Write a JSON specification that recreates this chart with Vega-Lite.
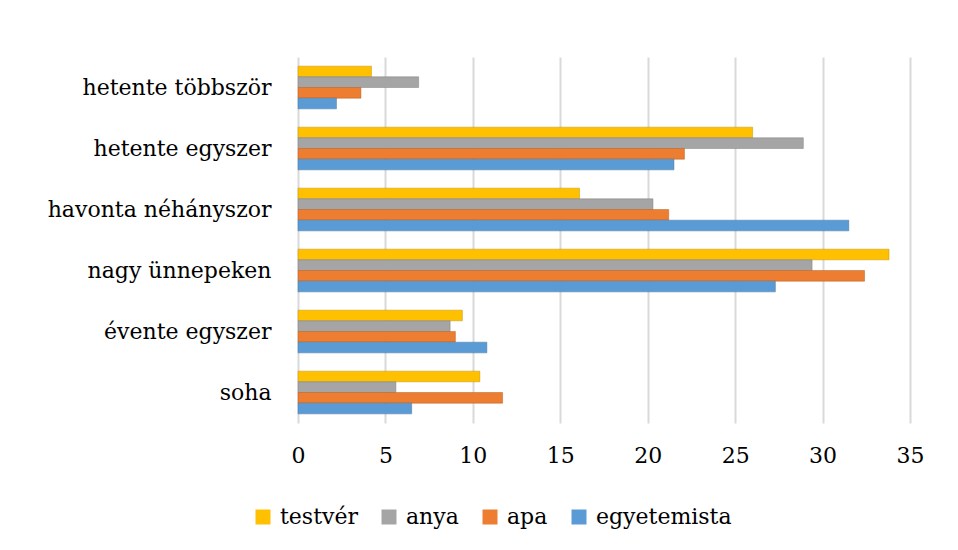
{
  "$schema": "https://vega.github.io/schema/vega-lite/v6.json",
  "width": 612,
  "height": 366,
  "autosize": {"type": "none"},
  "padding": {"left": 298, "top": 57, "right": 48, "bottom": 127},
  "background": "white",
  "data": {
    "values": [
      {"cat": "hetente többször", "s": "testvér", "v": 4.2},
      {"cat": "hetente többször", "s": "anya", "v": 6.9},
      {"cat": "hetente többször", "s": "apa", "v": 3.6},
      {"cat": "hetente többször", "s": "egyetemista", "v": 2.2},
      {"cat": "hetente egyszer", "s": "testvér", "v": 26.0},
      {"cat": "hetente egyszer", "s": "anya", "v": 28.9},
      {"cat": "hetente egyszer", "s": "apa", "v": 22.1},
      {"cat": "hetente egyszer", "s": "egyetemista", "v": 21.5},
      {"cat": "havonta néhányszor", "s": "testvér", "v": 16.1},
      {"cat": "havonta néhányszor", "s": "anya", "v": 20.3},
      {"cat": "havonta néhányszor", "s": "apa", "v": 21.2},
      {"cat": "havonta néhányszor", "s": "egyetemista", "v": 31.5},
      {"cat": "nagy ünnepeken", "s": "testvér", "v": 33.8},
      {"cat": "nagy ünnepeken", "s": "anya", "v": 29.4},
      {"cat": "nagy ünnepeken", "s": "apa", "v": 32.4},
      {"cat": "nagy ünnepeken", "s": "egyetemista", "v": 27.3},
      {"cat": "évente egyszer", "s": "testvér", "v": 9.4},
      {"cat": "évente egyszer", "s": "anya", "v": 8.7},
      {"cat": "évente egyszer", "s": "apa", "v": 9.0},
      {"cat": "évente egyszer", "s": "egyetemista", "v": 10.8},
      {"cat": "soha", "s": "testvér", "v": 10.4},
      {"cat": "soha", "s": "anya", "v": 5.6},
      {"cat": "soha", "s": "apa", "v": 11.7},
      {"cat": "soha", "s": "egyetemista", "v": 6.5}
    ]
  },
  "mark": {"type": "bar", "strokeWidth": 0.6, "strokeOpacity": 0.8},
  "encoding": {
    "y": {
      "field": "cat",
      "type": "nominal",
      "sort": ["hetente többször", "hetente egyszer", "havonta néhányszor", "nagy ünnepeken", "évente egyszer", "soha"],
      "scale": {"paddingInner": 0.3, "paddingOuter": 0.15},
      "axis": {"title": null, "domain": false, "ticks": false, "labelPadding": 27, "labelLimit": 300, "labelFontSize": 22, "labelFont": "DejaVu Serif", "labelColor": "#000000", "grid": false}
    },
    "yOffset": {
      "field": "s",
      "type": "nominal",
      "sort": ["testvér", "anya", "apa", "egyetemista"],
      "scale": {"paddingInner": 0, "paddingOuter": 0}
    },
    "x": {
      "field": "v",
      "type": "quantitative",
      "scale": {"domain": [0, 35], "nice": false},
      "axis": {"title": null, "values": [0, 5, 10, 15, 20, 25, 30, 35], "domain": false, "ticks": false, "labelPadding": 22, "labelFontSize": 22, "labelFont": "DejaVu Serif", "labelColor": "#000000", "grid": true, "gridColor": "#d9d9d9", "gridWidth": 2, "labelFlush": false}
    },
    "color": {
      "field": "s",
      "type": "nominal",
      "sort": ["testvér", "anya", "apa", "egyetemista"],
      "scale": {"domain": ["testvér", "anya", "apa", "egyetemista"], "range": ["#FFC000", "#A5A5A5", "#ED7D31", "#5B9BD5"]},
      "legend": {
        "title": null,
        "orient": "none",
        "direction": "horizontal",
        "legendX": -46,
        "legendY": 449,
        "symbolType": "square",
        "symbolSize": 225,
        "symbolStrokeWidth": 0,
        "labelFontSize": 22,
        "labelFont": "DejaVu Serif",
        "labelColor": "#000000",
        "columnPadding": 20,
        "labelOffset": 6
      }
    },
    "stroke": {
      "field": "s",
      "type": "nominal",
      "scale": {"domain": ["testvér", "anya", "apa", "egyetemista"], "range": ["#BF9000", "#7C7C7C", "#B25E22", "#41719C"]},
      "legend": null
    }
  },
  "config": {"view": {"stroke": null}}
}
